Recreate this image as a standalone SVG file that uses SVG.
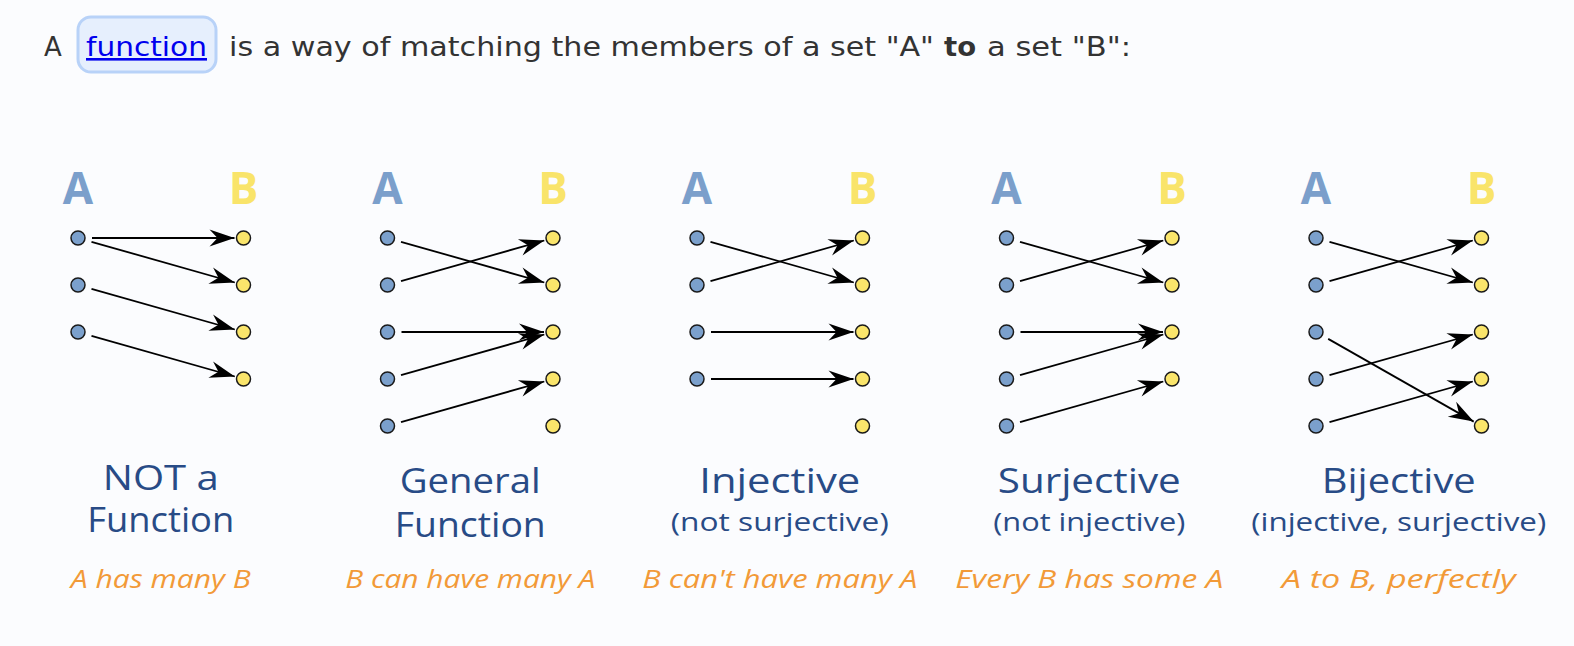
<svg xmlns="http://www.w3.org/2000/svg" width="1574" height="646" viewBox="0 0 1574 646">
<style>
.hdr{font-family:"DejaVu Sans","Liberation Sans",sans-serif;font-size:26px;fill:#333}
.lnk{fill:#0000EE;text-decoration:underline}
.setA{font-family:"Open Sans","Liberation Sans",sans-serif;font-weight:bold;font-size:44px;fill:#7B9FCB;text-anchor:middle}
.setB{font-family:"Open Sans","Liberation Sans",sans-serif;font-weight:bold;font-size:44px;fill:#F9E46A;text-anchor:middle}
.t1{font-family:"Open Sans","Liberation Sans",sans-serif;font-weight:500;font-size:34px;fill:#284B86;text-anchor:middle}
.t2{font-family:"Open Sans","Liberation Sans",sans-serif;font-weight:500;font-size:26px;fill:#284B86;text-anchor:middle}
.or{font-family:"Open Sans","Liberation Sans",sans-serif;font-weight:500;font-style:italic;font-size:26px;fill:#F29A38;text-anchor:middle}
.da{fill:#7BA0CC;stroke:#1a1a1a;stroke-width:1.5}
.db{fill:#FAE56B;stroke:#1a1a1a;stroke-width:1.5}
.ar{stroke:#000;stroke-width:1.8;fill:none;marker-end:url(#head)}
</style>
<defs>
<marker id="head" markerUnits="userSpaceOnUse" markerWidth="28" markerHeight="20" viewBox="-26 -10 28 20" refX="0" refY="0" orient="auto">
<path d="M0,0 L-25,-8.5 L-17,0 L-25,8.5 Z" fill="#000"/>
</marker>
</defs>
<rect width="1574" height="646" fill="#FBFCFE"/>

<g id="header">
<rect x="78" y="17" width="138" height="55" rx="13" fill="#E6EFFD" stroke="#B8D2F8" stroke-width="3"/>
<text class="hdr" x="44" y="56">A</text>
<text class="hdr lnk" x="86" y="56" textLength="121" lengthAdjust="spacingAndGlyphs">function</text>
<text class="hdr" x="229" y="56" textLength="705" lengthAdjust="spacingAndGlyphs">is a way of matching the members of a set "A"</text>
<text class="hdr" x="944" y="56" font-weight="bold" textLength="32" lengthAdjust="spacingAndGlyphs">to</text>
<text class="hdr" x="987" y="56" textLength="144" lengthAdjust="spacingAndGlyphs">a set "B":</text>
</g>

<g id="connectors">
<line class="ar" x1="92" y1="238" x2="234.5" y2="238"/>
<line class="ar" x1="91.5" y1="241.8" x2="234.8" y2="282.5"/>
<line class="ar" x1="91.5" y1="288.8" x2="234.8" y2="329.5"/>
<line class="ar" x1="91.5" y1="335.8" x2="234.8" y2="376.5"/>

<line class="ar" x1="401" y1="241.8" x2="544.3" y2="282.5"/>
<line class="ar" x1="401" y1="281.2" x2="544.3" y2="240.5"/>
<line class="ar" x1="401.5" y1="332" x2="544" y2="332"/>
<line class="ar" x1="401" y1="375.2" x2="544.3" y2="334.5"/>
<line class="ar" x1="401" y1="422.2" x2="544.3" y2="381.5"/>

<line class="ar" x1="710.5" y1="241.8" x2="853.8" y2="282.5"/>
<line class="ar" x1="710.5" y1="281.2" x2="853.8" y2="240.5"/>
<line class="ar" x1="711" y1="332" x2="853.5" y2="332"/>
<line class="ar" x1="711" y1="379" x2="853.5" y2="379"/>

<line class="ar" x1="1020" y1="241.8" x2="1163.3" y2="282.5"/>
<line class="ar" x1="1020" y1="281.2" x2="1163.3" y2="240.5"/>
<line class="ar" x1="1020.5" y1="332" x2="1163" y2="332"/>
<line class="ar" x1="1020" y1="375.2" x2="1163.3" y2="334.5"/>
<line class="ar" x1="1020" y1="422.2" x2="1163.3" y2="381.5"/>

<line class="ar" x1="1329.5" y1="241.8" x2="1472.8" y2="282.5"/>
<line class="ar" x1="1329.5" y1="281.2" x2="1472.8" y2="240.5"/>
<line class="ar" x1="1328.2" y1="338.9" x2="1473.7" y2="421.6"/>
<line class="ar" x1="1329.5" y1="375.2" x2="1472.8" y2="334.5"/>
<line class="ar" x1="1329.5" y1="422.2" x2="1472.8" y2="381.5"/>
</g>

<g id="panel-not-function">
<text class="setA" x="78" y="204">A</text>
<text class="setB" x="243.5" y="204">B</text>
<circle class="da" cx="78" cy="238" r="7"/>
<circle class="da" cx="78" cy="285" r="7"/>
<circle class="da" cx="78" cy="332" r="7"/>
<circle class="db" cx="243.5" cy="238" r="7"/>
<circle class="db" cx="243.5" cy="285" r="7"/>
<circle class="db" cx="243.5" cy="332" r="7"/>
<circle class="db" cx="243.5" cy="379" r="7"/>
<text class="t1" x="160.75" y="490" textLength="116" lengthAdjust="spacingAndGlyphs">NOT a</text>
<text class="t1" x="160.75" y="532" textLength="147" lengthAdjust="spacingAndGlyphs">Function</text>
<text class="or" x="160.75" y="588" textLength="180" lengthAdjust="spacingAndGlyphs">A has many B</text>
</g>

<g id="panel-general">
<text class="setA" x="387.5" y="204">A</text>
<text class="setB" x="553" y="204">B</text>
<circle class="da" cx="387.5" cy="238" r="7"/>
<circle class="da" cx="387.5" cy="285" r="7"/>
<circle class="da" cx="387.5" cy="332" r="7"/>
<circle class="da" cx="387.5" cy="379" r="7"/>
<circle class="da" cx="387.5" cy="426" r="7"/>
<circle class="db" cx="553" cy="238" r="7"/>
<circle class="db" cx="553" cy="285" r="7"/>
<circle class="db" cx="553" cy="332" r="7"/>
<circle class="db" cx="553" cy="379" r="7"/>
<circle class="db" cx="553" cy="426" r="7"/>
<text class="t1" x="470.25" y="493" textLength="141" lengthAdjust="spacingAndGlyphs">General</text>
<text class="t1" x="470.25" y="537" textLength="151" lengthAdjust="spacingAndGlyphs">Function</text>
<text class="or" x="470.25" y="588" textLength="250" lengthAdjust="spacingAndGlyphs">B can have many A</text>
</g>

<g id="panel-injective">
<text class="setA" x="697" y="204">A</text>
<text class="setB" x="862.5" y="204">B</text>
<circle class="da" cx="697" cy="238" r="7"/>
<circle class="da" cx="697" cy="285" r="7"/>
<circle class="da" cx="697" cy="332" r="7"/>
<circle class="da" cx="697" cy="379" r="7"/>
<circle class="db" cx="862.5" cy="238" r="7"/>
<circle class="db" cx="862.5" cy="285" r="7"/>
<circle class="db" cx="862.5" cy="332" r="7"/>
<circle class="db" cx="862.5" cy="379" r="7"/>
<circle class="db" cx="862.5" cy="426" r="7"/>
<text class="t1" x="779.75" y="493" textLength="161" lengthAdjust="spacingAndGlyphs">Injective</text>
<text class="t2" x="779.75" y="531" textLength="218" lengthAdjust="spacingAndGlyphs">(not surjective)</text>
<text class="or" x="779.75" y="588" textLength="275" lengthAdjust="spacingAndGlyphs">B can't have many A</text>
</g>

<g id="panel-surjective">
<text class="setA" x="1006.5" y="204">A</text>
<text class="setB" x="1172" y="204">B</text>
<circle class="da" cx="1006.5" cy="238" r="7"/>
<circle class="da" cx="1006.5" cy="285" r="7"/>
<circle class="da" cx="1006.5" cy="332" r="7"/>
<circle class="da" cx="1006.5" cy="379" r="7"/>
<circle class="da" cx="1006.5" cy="426" r="7"/>
<circle class="db" cx="1172" cy="238" r="7"/>
<circle class="db" cx="1172" cy="285" r="7"/>
<circle class="db" cx="1172" cy="332" r="7"/>
<circle class="db" cx="1172" cy="379" r="7"/>
<text class="t1" x="1089.25" y="493" textLength="183" lengthAdjust="spacingAndGlyphs">Surjective</text>
<text class="t2" x="1089.25" y="531" textLength="192" lengthAdjust="spacingAndGlyphs">(not injective)</text>
<text class="or" x="1089.25" y="588" textLength="268" lengthAdjust="spacingAndGlyphs">Every B has some A</text>
</g>

<g id="panel-bijective">
<text class="setA" x="1316" y="204">A</text>
<text class="setB" x="1481.5" y="204">B</text>
<circle class="da" cx="1316" cy="238" r="7"/>
<circle class="da" cx="1316" cy="285" r="7"/>
<circle class="da" cx="1316" cy="332" r="7"/>
<circle class="da" cx="1316" cy="379" r="7"/>
<circle class="da" cx="1316" cy="426" r="7"/>
<circle class="db" cx="1481.5" cy="238" r="7"/>
<circle class="db" cx="1481.5" cy="285" r="7"/>
<circle class="db" cx="1481.5" cy="332" r="7"/>
<circle class="db" cx="1481.5" cy="379" r="7"/>
<circle class="db" cx="1481.5" cy="426" r="7"/>
<text class="t1" x="1398.75" y="493" textLength="154" lengthAdjust="spacingAndGlyphs">Bijective</text>
<text class="t2" x="1398.75" y="531" textLength="295" lengthAdjust="spacingAndGlyphs">(injective, surjective)</text>
<text class="or" x="1398.75" y="588" textLength="234" lengthAdjust="spacingAndGlyphs">A to B, perfectly</text>
</g>
</svg>
